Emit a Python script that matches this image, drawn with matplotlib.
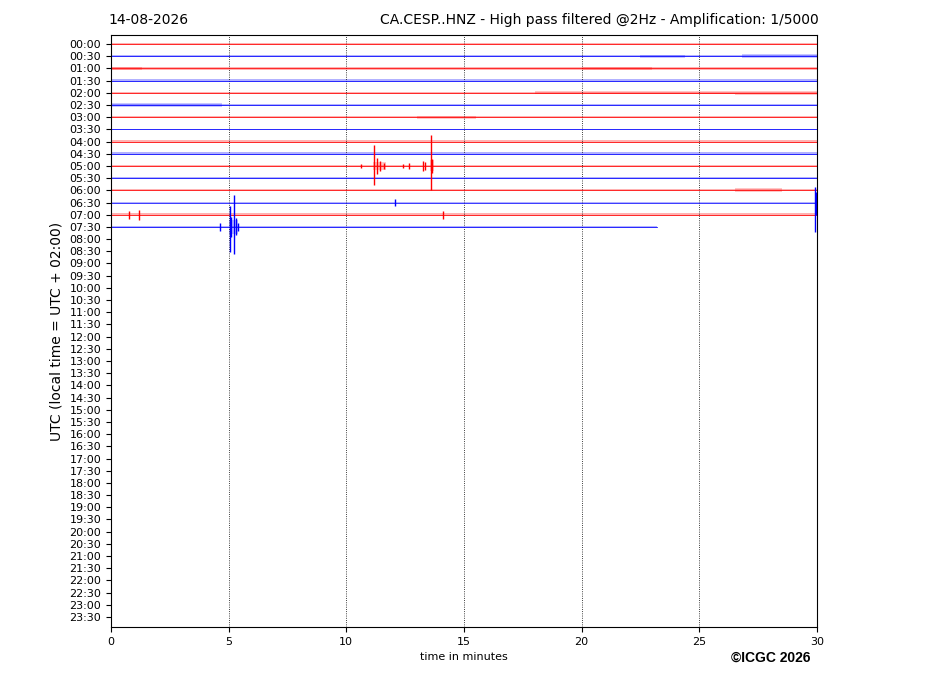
import numpy as np
from matplotlib import pyplot as plt

# helicorder rows: 48 half-hour lines, only the first 16 have data
row_labels = ['{0:02d}:{1:02d}'.format(h, m) for h in range(24) for m in (0, 30)]
n_data_rows = 16
last_row_end = 23.2  # minutes recorded in the last (07:30) row

# base noise half-amplitude per row (in row spacings)
noise_level = [0.08, 0.07, 0.10, 0.13, 0.08, 0.07, 0.07, 0.07,
               0.11, 0.11, 0.07, 0.06, 0.07, 0.07, 0.11, 0.11]

# noisier stretches: (row, start min, end min, half-amplitude)
noisy_spans = [
    (1, 22.5, 24.4, 0.11), (1, 26.8, 30.0, 0.15),
    (2, 0.0, 1.3, 0.15), (2, 20.0, 23.0, 0.11),
    (4, 18.0, 26.5, 0.11), (4, 26.5, 30.0, 0.18),
    (5, 0.0, 4.7, 0.14),
    (6, 13.0, 15.5, 0.11),
    (10, 11.15, 11.7, 0.3), (10, 13.55, 13.72, 0.45),
    (12, 26.5, 28.5, 0.15),
    (15, 5.0, 5.4, 0.55),
]

# spikes: (row, minute, amplitude up, amplitude down)
events = [
    (10, 10.61, 0.16, 0.16), (10, 11.19, 1.72, 1.56), (10, 11.30, 0.65, 0.65),
    (10, 11.45, 0.40, 0.40), (10, 11.60, 0.25, 0.25), (10, 12.42, 0.16, 0.16),
    (10, 12.66, 0.25, 0.25), (10, 13.27, 0.40, 0.40), (10, 13.33, 0.33, 0.33),
    (10, 13.60, 2.54, 1.97), (10, 13.66, 0.60, 0.60),
    (13, 12.07, 0.25, 0.25), (13, 29.92, 1.28, 2.44), (13, 29.97, 0.85, 1.05),
    (14, 0.76, 0.33, 0.33), (14, 1.19, 0.41, 0.41), (14, 14.10, 0.33, 0.33),
    (15, 4.63, 0.33, 0.33), (15, 5.06, 1.72, 2.05), (15, 5.12, 0.80, 0.80),
    (15, 5.23, 2.62, 2.20), (15, 5.30, 0.70, 0.70), (15, 5.40, 0.30, 0.30),
]

row_colors = ['red', 'blue']

if __name__ == '__main__':
    fig = plt.figure(figsize=(9.27, 6.96), dpi=100)
    ax = fig.add_axes([0.1197, 0.0991, 0.7616, 0.8506])

    for row in range(n_data_rows):
        color = row_colors[row % 2]
        end = last_row_end if row == n_data_rows - 1 else 30.0
        x = [0.0, end]
        nl = noise_level[row]
        ax.fill_between(x, [row - nl] * 2, [row + nl] * 2, color=color,
                        alpha=0.3, lw=0)
        ax.plot(x, [row, row], color=color, lw=0.6, alpha=0.9)

    for row, start, end, amp in noisy_spans:
        color = row_colors[row % 2]
        ax.fill_between([start, end], [row - amp] * 2, [row + amp] * 2,
                        color=color, alpha=0.22, lw=0)

    for row, minute, up, down in events:
        color = row_colors[row % 2]
        ax.vlines(minute, row - up, row + down, color=color, lw=1.0)

    ax.set_xlim(0, 30)
    ax.set_ylim(47.82, -0.74)
    ax.set_yticks(np.arange(len(row_labels)))
    ax.set_yticklabels(row_labels)
    ax.set_xticks([0, 5, 10, 15, 20, 25, 30])
    ax.tick_params(axis='both', labelsize=8)
    ax.xaxis.grid(True, linestyle=':', color='black', lw=0.6)

    ax.set_title('14-08-2026', loc='left', fontsize=10, pad=8, x=-0.004)
    ax.set_title('CA.CESP..HNZ - High pass filtered @2Hz - Amplification: 1/5000',
                 loc='right', fontsize=10, pad=8, x=1.003)
    ax.set_xlabel('time in minutes', fontsize=8)
    ax.set_ylabel('UTC (local time = UTC + 02:00)', fontsize=10)
    fig.text(0.831, 0.0546, '\u00a9ICGC 2026', ha='center', va='center',
             fontsize=10, fontweight='bold', family='Liberation Sans')

    plt.savefig('out.png', dpi=100)
